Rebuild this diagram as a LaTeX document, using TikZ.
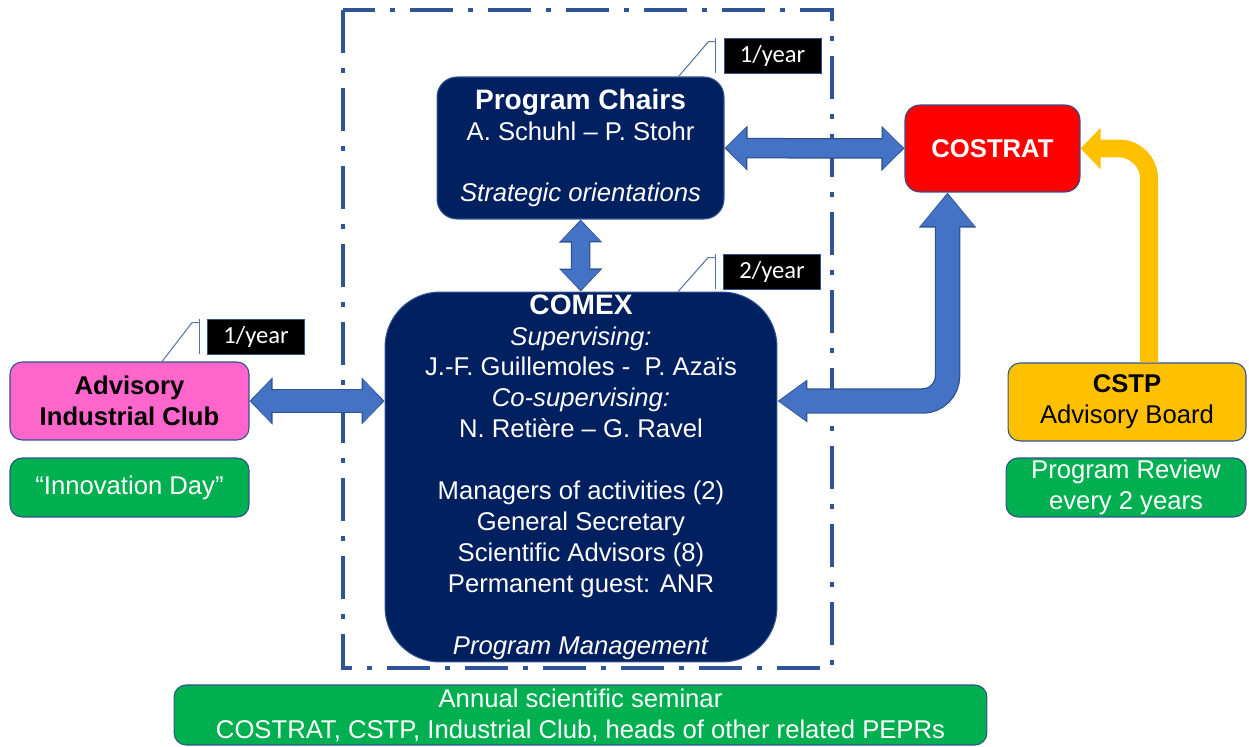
\documentclass[tikz,border=0pt]{standalone}
\usepackage{fontspec}
\setmainfont{Liberation Sans}
\newfontfamily\tagfont{Carlito}
\usepackage{tikz}
\usetikzlibrary{arrows.meta, positioning, calc}
\definecolor{navy}{HTML}{002060}
\definecolor{arrowblue}{HTML}{4472C4}
\definecolor{arrowedge}{HTML}{2F528F}
\definecolor{frameblue}{HTML}{2F5597}
\definecolor{clubpink}{HTML}{FF66CC}
\definecolor{seminargreen}{HTML}{00B050}
\definecolor{cstpgold}{HTML}{FFC000}
\newcommand{\boxtitle}[1]{{\fontsize{16}{17.6}\selectfont\bfseries #1}}

\begin{document}
\begin{tikzpicture}[
    x=0.02cm, y=-0.02cm,
    box/.style={rectangle, rounded corners=0.24cm, draw=arrowedge, line width=0.6pt, inner sep=0pt, align=center, font=\fontsize{14.6}{17.6}\selectfont},
    dark/.style={box, fill=navy, text=white},
    tagbox/.style={rectangle, fill=black, draw=arrowedge, line width=0.5pt, text=white, minimum width=1.94cm, minimum height=0.7cm, font=\tagfont\fontsize{14}{17}\selectfont},
    callout/.style={draw=arrowedge!80, line width=0.6pt},
    edgepass/.style={draw=arrowedge, line width=#1},
    fillpass/.style={draw=arrowblue, line width=#1, shorten <=0.03cm, shorten >=0.03cm},
]
\useasboundingbox (0,0) rectangle (1249,747);

% dash-dot frame round the programme bodies
\draw[frameblue, line width=0.08cm, dash pattern=on 0.86cm off 0.3cm on 0.1cm off 0.3cm] (343,10) rectangle (832,668);

% boxes
\node[dark, rounded corners=0.4cm, minimum width=5.74cm, minimum height=2.84cm] (chairs) at (580.5,148)
  {\boxtitle{Program Chairs}\\A. Schuhl – P. Stohr\\[17.6pt]\textit{Strategic orientations}};
\node[dark, rounded corners=1.1cm, minimum width=7.84cm, minimum height=7.4cm] (comex) at (581,477)
  {\boxtitle{COMEX}\\\textit{Supervising:}\\J.-F. Guillemoles -~ P. Azaïs\\\textit{Co-supervising:}\\N. Retière – G. Ravel\\[17.6pt]
   Managers of activities (2)\\General Secretary\\Scientific Advisors (8)\\Permanent guest: ANR\\[17.6pt]\textit{Program Management}};
\node[box, fill=red, text=white, font=\fontsize{14.6}{17.6}\selectfont\bfseries, rounded corners=0.3cm, minimum width=3.5cm, minimum height=1.74cm] (costrat) at (992.5,148.5) {COSTRAT};
\node[box, fill=clubpink, font=\fontsize{14.6}{17.6}\selectfont\bfseries, minimum width=4.78cm, minimum height=1.56cm] (club) at (129.5,401) {Advisory\\Industrial Club};
\node[box, fill=seminargreen, text=white, minimum width=4.78cm, minimum height=1.18cm] (innov) at (129.5,487.5) {“Innovation Day”};
\node[box, fill=cstpgold, minimum width=4.76cm, minimum height=1.56cm] (cstp) at (1127,402) {\textbf{CSTP}\\Advisory Board};
\node[box, fill=seminargreen, text=white, minimum width=4.8cm, minimum height=1.18cm] (review) at (1126,487.5) {Program Review\\every 2 years};
\node[box, fill=seminargreen, text=white, minimum width=16.26cm, minimum height=1.2cm] (seminar) at (580.5,715)
  {Annual scientific seminar\\COSTRAT, CSTP, Industrial Club, heads of other related PEPRs};

% frequency tags
\node[tagbox] (tag1) at (772.5,55.5) {1/year};
\node[tagbox] (tag2) at (772,271.5) {2/year};
\node[tagbox] (tag3) at (256,336.5) {1/year};

\foreach \t/\b in {tag1/chairs, tag2/comex, tag3/club} {
  \coordinate (\t k) at ([xshift=-0.9cm]\t.west);
  \draw[callout] (\t k |- \b.north) -- ([xshift=-0.3cm,yshift=-0.08cm]\t.north west) -- ([xshift=-0.16cm,yshift=-0.08cm]\t.north west);
  \draw[callout] ([xshift=-0.16cm]\t.north west) -- ([xshift=-0.16cm]\t.south west);
}

% block arrows
\draw[edgepass=0.41cm, {Triangle[length=0.46cm,width=0.88cm]}-{Triangle[length=0.46cm,width=0.88cm]}] (chairs) -- (costrat);
\draw[fillpass=0.36cm, {Triangle[length=0.40cm,width=0.80cm]}-{Triangle[length=0.40cm,width=0.80cm]}] (chairs) -- (costrat);

\draw[edgepass=0.39cm, {Triangle[length=0.46cm,width=0.84cm]}-{Triangle[length=0.46cm,width=0.84cm]}] (chairs) -- (comex);
\draw[fillpass=0.34cm, {Triangle[length=0.40cm,width=0.76cm]}-{Triangle[length=0.40cm,width=0.76cm]}] (chairs) -- (comex);

\draw[edgepass=0.49cm, {Triangle[length=0.46cm,width=0.92cm]}-{Triangle[length=0.46cm,width=0.92cm]}] (club.east) -- (club.east -| comex.west);
\draw[fillpass=0.44cm, {Triangle[length=0.40cm,width=0.84cm]}-{Triangle[length=0.40cm,width=0.84cm]}] (club.east) -- (club.east -| comex.west);

\coordinate (up) at ([xshift=-0.9cm]costrat.south);
\draw[edgepass=0.51cm, rounded corners=0.5cm, {Triangle[length=0.60cm,width=0.82cm]}-{Triangle[length=0.70cm,width=1.10cm]}] (club.east -| comex.east) -| (up);
\draw[fillpass=0.46cm, rounded corners=0.5cm, {Triangle[length=0.54cm,width=0.74cm]}-{Triangle[length=0.64cm,width=1.02cm]}] (club.east -| comex.east) -| (up);

\draw[cstpgold, line width=0.36cm, rounded corners=0.6cm, -{Triangle[length=0.40cm,width=0.80cm]}] ([xshift=0.44cm]cstp.north) |- (costrat.east);

\end{tikzpicture}
\end{document}
